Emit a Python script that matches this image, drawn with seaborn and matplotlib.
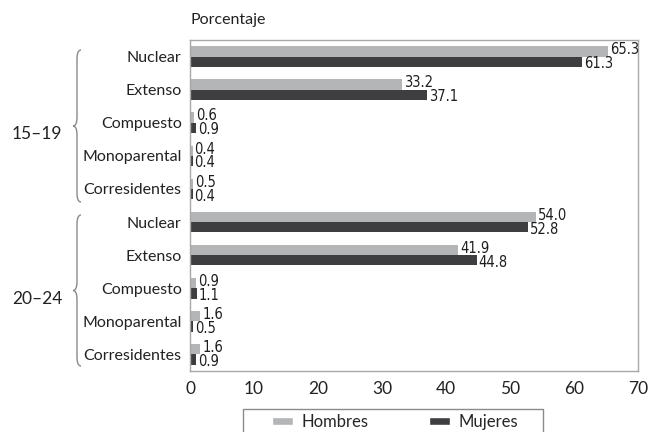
import numpy as np
import pandas as pd
import matplotlib
matplotlib.use("Agg")
import matplotlib.pyplot as plt
import seaborn as sns
from matplotlib.path import Path
from matplotlib.patches import PathPatch, Patch, Rectangle

# datos
grupos = ["15–19", "20–24"]
tipos = ["Nuclear", "Extenso", "Compuesto", "Monoparental", "Corresidentes"]
hombres_15_19 = [65.3, 33.2, 0.6, 0.4, 0.5]
mujeres_15_19 = [61.3, 37.1, 0.9, 0.4, 0.4]
hombres_20_24 = [54.0, 41.9, 0.9, 1.6, 1.6]
mujeres_20_24 = [52.8, 44.8, 1.1, 0.5, 0.9]
xticks = [0, 10, 20, 30, 40, 50, 60, 70]

sns.set_style("white")
plt.rcParams["font.family"] = ["Lato", "DejaVu Sans"]

gris = "#b3b5b7"
oscuro = "#3e3e41"

filas = []
for g, h, m in [(grupos[0], hombres_15_19, mujeres_15_19), (grupos[1], hombres_20_24, mujeres_20_24)]:
    for t, vh, vm in zip(tipos, h, m):
        filas.append({"cat": g + "|" + t, "sexo": "Hombres", "valor": vh})
        filas.append({"cat": g + "|" + t, "sexo": "Mujeres", "valor": vm})
df = pd.DataFrame(filas)
orden = [g + "|" + t for g in grupos for t in tipos]

fig = plt.figure(figsize=(6.55, 4.32), dpi=100)
ax = fig.add_axes([190 / 655, 1 - 371 / 432, 448 / 655, 331 / 432])

sns.barplot(data=df, y="cat", x="valor", hue="sexo", order=orden,
            hue_order=["Hombres", "Mujeres"], palette=[gris, oscuro],
            orient="h", width=0.62, gap=0, legend=False, ax=ax, saturation=1,
            linewidth=0)

# etiquetas de valores
for cont, dy in zip(ax.containers, [-0.05, 0.06]):
    for barra in cont:
        v = barra.get_width()
        yc = barra.get_y() + barra.get_height() / 2
        ax.text(v + 0.3, yc + dy, f"{v:.1f}", va="center", ha="left",
                fontsize=10.5, family="DejaVu Sans", fontstretch="condensed",
                color="#1e1e1e")

ax.set_xlim(0, 70)
ax.set_xticks(xticks)
ax.set_xticklabels([str(x) for x in xticks], fontsize=12.5, color="#222222")
ax.set_yticks(range(len(orden)))
ax.set_yticklabels(tipos * 2, fontsize=11.5, color="#222222")
ax.set_ylim(len(orden) - 0.5, -0.5)
ax.set_xlabel("")
ax.set_ylabel("")
ax.tick_params(length=0)
ax.tick_params(axis="y", pad=6)
ax.tick_params(axis="x", pad=7)
for s in ax.spines.values():
    s.set_visible(True)
    s.set_color("#a8a8a8")
    s.set_linewidth(1)

fig.text(190 / 655, 1 - 20 / 432, "Porcentaje", fontsize=11.5, va="center",
         ha="left", color="#222222")

# llaves de los grupos
def llave(y_top, y_bot, xe=81, xm=77, xt=73, r=9):
    ym = (y_top + y_bot) / 2
    pts = [(xe, y_top), (xm, y_top), (xm, y_top + r),
           (xm, ym - r),
           (xm, ym), (xt, ym),
           (xm, ym), (xm, ym + r),
           (xm, y_bot - r),
           (xm, y_bot), (xe, y_bot)]
    codes = [Path.MOVETO, Path.CURVE3, Path.CURVE3,
             Path.LINETO,
             Path.CURVE3, Path.CURVE3,
             Path.CURVE3, Path.CURVE3,
             Path.LINETO,
             Path.CURVE3, Path.CURVE3]
    pts = [(x / 655, 1 - y / 432) for x, y in pts]
    fig.add_artist(PathPatch(Path(pts, codes), fill=False, edgecolor="#8a8a8a",
                             linewidth=1, transform=fig.transFigure))
    return ym

for g, (yt, yb) in zip(grupos, [(50, 202), (215, 366)]):
    ym = llave(yt, yb)
    fig.text(12 / 655, 1 - (ym + 8) / 432, g, fontsize=12.5, va="center",
             ha="left", color="#222222")

# leyenda (marco dibujado aparte)
fig.add_artist(Rectangle((243 / 655, -0.05), 300 / 655, 0.05 + 1 - 409 / 432,
                         transform=fig.transFigure, fill=False,
                         edgecolor="#8a8a8a", linewidth=1))
handles = [Patch(facecolor=gris, label="Hombres"), Patch(facecolor=oscuro, label="Mujeres")]
leg = fig.legend(handles=handles, loc="center", bbox_to_anchor=(395 / 655, 1 - 422 / 432),
                 ncol=2, frameon=False, fontsize=12, handlelength=1.3, handleheight=0.4,
                 handletextpad=0.5, columnspacing=3.6, borderpad=0, borderaxespad=0)

fig.savefig("out.png", dpi=100)
